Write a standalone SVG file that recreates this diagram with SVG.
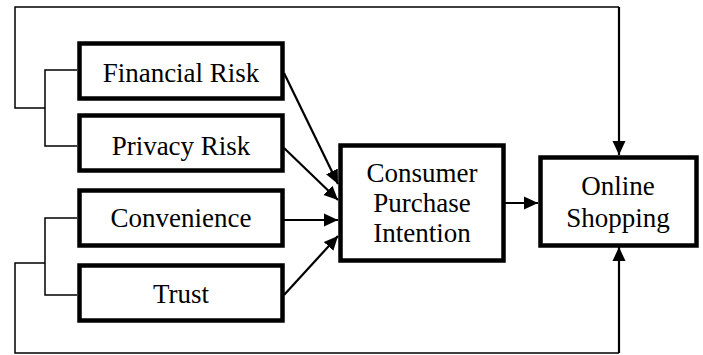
<svg xmlns="http://www.w3.org/2000/svg" width="703" height="355" viewBox="0 0 703 355">
<defs>
<marker id="ah" viewBox="0 0 14 14" refX="14" refY="7" markerWidth="14" markerHeight="14" markerUnits="userSpaceOnUse" orient="auto">
<path d="M0,0.5 L14,7 L0,13.5 Z" fill="#000"/>
</marker>
<style>
.box{fill:#fff;stroke:#000;stroke-width:4.5}
.t{font-family:"Liberation Serif","Times New Roman",serif;font-size:27px;fill:#000;text-anchor:middle}
.thin{fill:none;stroke:#000;stroke-width:1.5}
.arr{fill:none;stroke:#000;stroke-width:2.2;marker-end:url(#ah)}
</style>
</defs>
<rect width="703" height="355" fill="#fff"/>
<g id="connectors">
<polyline class="thin" points="77,70 45,70 45,146 77,146"/>
<polyline class="thin" points="45,108 15,108 15,7 619,7"/>
<line class="arr" x1="619" y1="7" x2="619" y2="155"/>
<polyline class="thin" points="77,218 45,218 45,295 77,295"/>
<polyline class="thin" points="45,263 15,263 15,353 619,353"/>
<line class="arr" x1="619" y1="353" x2="619" y2="247"/>
<line class="arr" x1="284" y1="73" x2="338" y2="184"/>
<line class="arr" x1="284" y1="148" x2="338" y2="200"/>
<line class="arr" x1="284" y1="220" x2="338" y2="220"/>
<line class="arr" x1="284" y1="295" x2="338" y2="236"/>
<line class="arr" x1="505" y1="203" x2="538" y2="203"/>
</g>
<g id="financial-risk">
<rect class="box" x="79.5" y="43.5" width="203" height="55"/>
<text class="t" x="181" y="82">Financial Risk</text>
</g>
<g id="privacy-risk">
<rect class="box" x="79.5" y="115.5" width="203" height="55"/>
<text class="t" x="181" y="155">Privacy Risk</text>
</g>
<g id="convenience">
<rect class="box" x="79.5" y="190.5" width="203" height="55"/>
<text class="t" x="181" y="227">Convenience</text>
</g>
<g id="trust">
<rect class="box" x="79.5" y="265.5" width="203" height="55"/>
<text class="t" x="181" y="303">Trust</text>
</g>
<g id="consumer-purchase-intention">
<rect class="box" x="340.5" y="145.5" width="163" height="115"/>
<text class="t" x="422" y="182">Consumer</text>
<text class="t" x="422" y="212">Purchase</text>
<text class="t" x="422" y="242">Intention</text>
</g>
<g id="online-shopping">
<rect class="box" x="540.5" y="157.5" width="156" height="88"/>
<text class="t" x="618" y="195">Online</text>
<text class="t" x="618" y="227">Shopping</text>
</g>
</svg>
